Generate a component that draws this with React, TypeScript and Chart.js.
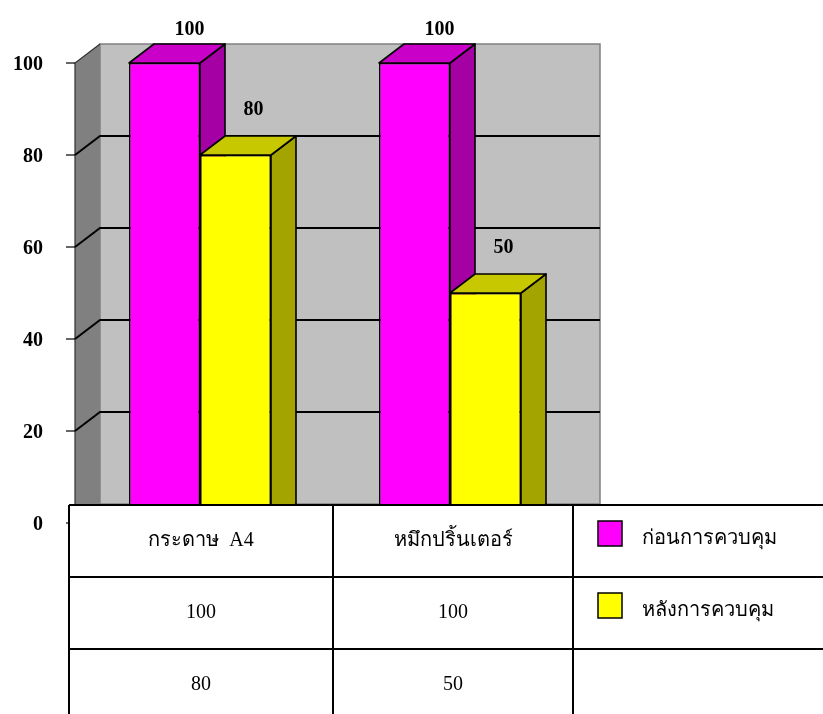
import React, { useEffect, useRef } from "react";
import { Chart, registerables } from "chart.js";

Chart.register(...registerables);

// ---- data ----
const categories = ["กระดาษ  A4", "หมึกปริ้นเตอร์"];
const seriesNames = ["ก่อนการควบคุม", "หลังการควบคุม"];
const beforeValues = [100, 100];
const afterValues = [80, 50];
const yTicks = [0, 20, 40, 60, 80, 100];

// ---- styles / layout ----
const W = 823;
const H = 714;
const DX = 25;
const DY = 19;
const FRONT = ["#FF00FF", "#FFFF00"];
const TOPC = ["#C800C8", "#C8C800"];
const SIDEC = ["#A400A4", "#A4A400"];
const LABEL_OFF = [
  { x: 25, y: -33 },
  { x: 18, y: -45 },
];
const SERIF = '"Liberation Serif", "Times New Roman", serif';
const TABLE_COLS = [69, 333, 573];
const TABLE_ROWS = [505, 577, 649, 721];

const poly = (ctx: CanvasRenderingContext2D, pts: number[][], fill: string) => {
  ctx.beginPath();
  ctx.moveTo(pts[0][0], pts[0][1]);
  for (let i = 1; i < pts.length; i++) ctx.lineTo(pts[i][0], pts[i][1]);
  ctx.closePath();
  ctx.fillStyle = fill;
  ctx.fill();
  ctx.stroke();
};

const threeD = {
  id: "threeD",
  beforeDatasetsDraw(chart: any) {
    const { ctx, chartArea: a, scales } = chart;
    const ys = scales.y;
    ctx.save();
    // side wall
    ctx.strokeStyle = "#404040";
    ctx.lineWidth = 1.2;
    ctx.beginPath();
    ctx.moveTo(a.left, a.top);
    ctx.lineTo(a.left + DX, a.top - DY);
    ctx.lineTo(a.left + DX, a.bottom - DY);
    ctx.lineTo(a.left, a.bottom);
    ctx.closePath();
    ctx.fillStyle = "#808080";
    ctx.fill();
    // back wall
    ctx.fillStyle = "#C0C0C0";
    ctx.fillRect(a.left + DX, a.top - DY, a.right - a.left, a.bottom - a.top);
    ctx.strokeStyle = "#808080";
    ctx.lineWidth = 1.5;
    ctx.strokeRect(a.left + DX, a.top - DY, a.right - a.left, a.bottom - a.top);
    // left front edge of side wall
    ctx.strokeStyle = "#303030";
    ctx.lineWidth = 1.2;
    ctx.beginPath();
    ctx.moveTo(a.left, a.bottom);
    ctx.lineTo(a.left, a.top);
    ctx.lineTo(a.left + DX, a.top - DY);
    ctx.stroke();
    // gridlines
    ctx.strokeStyle = "#000";
    ctx.lineWidth = 2;
    for (const v of yTicks) {
      if (v === 0 || v === ys.max) continue;
      const py = ys.getPixelForValue(v);
      ctx.beginPath();
      ctx.moveTo(a.left, py);
      ctx.lineTo(a.left + DX, py - DY);
      ctx.lineTo(a.right + DX, py - DY);
      ctx.stroke();
    }
    // ticks + labels
    ctx.lineWidth = 1.2;
    ctx.fillStyle = "#000";
    ctx.font = `bold 20px ${SERIF}`;
    ctx.textAlign = "right";
    ctx.textBaseline = "middle";
    for (const v of yTicks) {
      const py = ys.getPixelForValue(v);
      ctx.beginPath();
      ctx.moveTo(a.left - 9, py);
      ctx.lineTo(a.left, py);
      ctx.stroke();
      ctx.fillText(String(v), a.left - 32, py + 2);
    }
    ctx.restore();
  },
  beforeDatasetDraw() {
    return false;
  },
  afterDatasetsDraw(chart: any) {
    const { ctx } = chart;
    const metas = chart.data.datasets.map((_: any, i: number) => chart.getDatasetMeta(i));
    ctx.save();
    ctx.lineJoin = "round";
    for (let i = 0; i < categories.length; i++) {
      for (let d = 0; d < metas.length; d++) {
        const el = metas[d].data[i];
        const { x, y, base, width } = el.getProps(["x", "y", "base", "width"], true);
        const l = x - width / 2;
        const r = x + width / 2;
        el.draw(ctx);
        ctx.strokeStyle = "#000";
        ctx.lineWidth = 1.6;
        poly(ctx, [[r, y], [r + DX, y - DY], [r + DX, base - DY], [r, base]], SIDEC[d]);
        poly(ctx, [[l, y], [l + DX, y - DY], [r + DX, y - DY], [r, y]], TOPC[d]);
      }
    }
    // value labels
    ctx.fillStyle = "#000";
    ctx.font = `bold 20px ${SERIF}`;
    ctx.textAlign = "center";
    ctx.textBaseline = "middle";
    for (let d = 0; d < metas.length; d++) {
      metas[d].data.forEach((el: any, i: number) => {
        const v = chart.data.datasets[d].data[i];
        ctx.fillText(String(v), el.x + LABEL_OFF[d].x, el.y + LABEL_OFF[d].y);
      });
    }
    ctx.restore();
  },
  afterDraw(chart: any) {
    const { ctx } = chart;
    ctx.save();
    const left = TABLE_COLS[0];
    const top = TABLE_ROWS[0];
    ctx.fillStyle = "#fff";
    ctx.fillRect(left, top, W - left, H - top);
    ctx.strokeStyle = "#000";
    ctx.lineWidth = 2;
    for (let r = 0; r < 3; r++) {
      ctx.beginPath();
      ctx.moveTo(left, TABLE_ROWS[r]);
      ctx.lineTo(W, TABLE_ROWS[r]);
      ctx.stroke();
    }
    for (const cx of TABLE_COLS) {
      ctx.beginPath();
      ctx.moveTo(cx, top);
      ctx.lineTo(cx, H);
      ctx.stroke();
    }
    ctx.fillStyle = "#000";
    ctx.font = `20px ${SERIF}`;
    ctx.textAlign = "center";
    ctx.textBaseline = "middle";
    const rowsData = [categories, ...chart.data.datasets.map((ds: any) => ds.data.map(String))];
    rowsData.forEach((row: string[], r: number) => {
      const cy = (TABLE_ROWS[r] + TABLE_ROWS[r + 1]) / 2;
      row.forEach((txt, c) => {
        const cx = (TABLE_COLS[c] + TABLE_COLS[c + 1]) / 2;
        ctx.fillText(txt, cx, cy);
      });
    });
    // legend inside table
    ctx.textAlign = "left";
    chart.data.datasets.forEach((ds: any, d: number) => {
      const cy = (TABLE_ROWS[d] + TABLE_ROWS[d + 1]) / 2;
      ctx.fillStyle = ds.backgroundColor;
      ctx.fillRect(598, cy - 20, 24, 25);
      ctx.lineWidth = 1.5;
      ctx.strokeStyle = "#000";
      ctx.strokeRect(598, cy - 20, 24, 25);
      ctx.fillStyle = "#000";
      ctx.fillText(ds.label, 642, cy - 2);
    });
    ctx.restore();
  },
};

export default function App() {
  const ref = useRef<HTMLCanvasElement>(null);
  useEffect(() => {
    if (!ref.current) return;
    const chart = new Chart(ref.current, {
      type: "bar",
      data: {
        labels: categories,
        datasets: [
          { label: seriesNames[0], data: beforeValues, backgroundColor: FRONT[0], borderColor: "#000", borderWidth: 1.6 },
          { label: seriesNames[1], data: afterValues, backgroundColor: FRONT[1], borderColor: "#000", borderWidth: 1.6 },
        ],
      },
      options: {
        responsive: false,
        animation: false,
        devicePixelRatio: 1,
        layout: { padding: { left: 75, top: 63, right: W - 575, bottom: H - 523 } },
        plugins: { legend: { display: false }, tooltip: { enabled: false }, title: { display: false } },
        scales: {
          x: { display: false, offset: true },
          y: { display: false, min: 0, max: 100, ticks: { stepSize: 20 } },
        },
        datasets: { bar: { barPercentage: 1, categoryPercentage: 0.568 } },
      } as any,
      plugins: [threeD as any],
    });
    return () => chart.destroy();
  }, []);
  return (
    <div style={{ position: "absolute", left: 0, top: 0, width: W, height: H, background: "#fff" }}>
      <canvas ref={ref} width={W} height={H} style={{ display: "block" }} />
    </div>
  );
}
